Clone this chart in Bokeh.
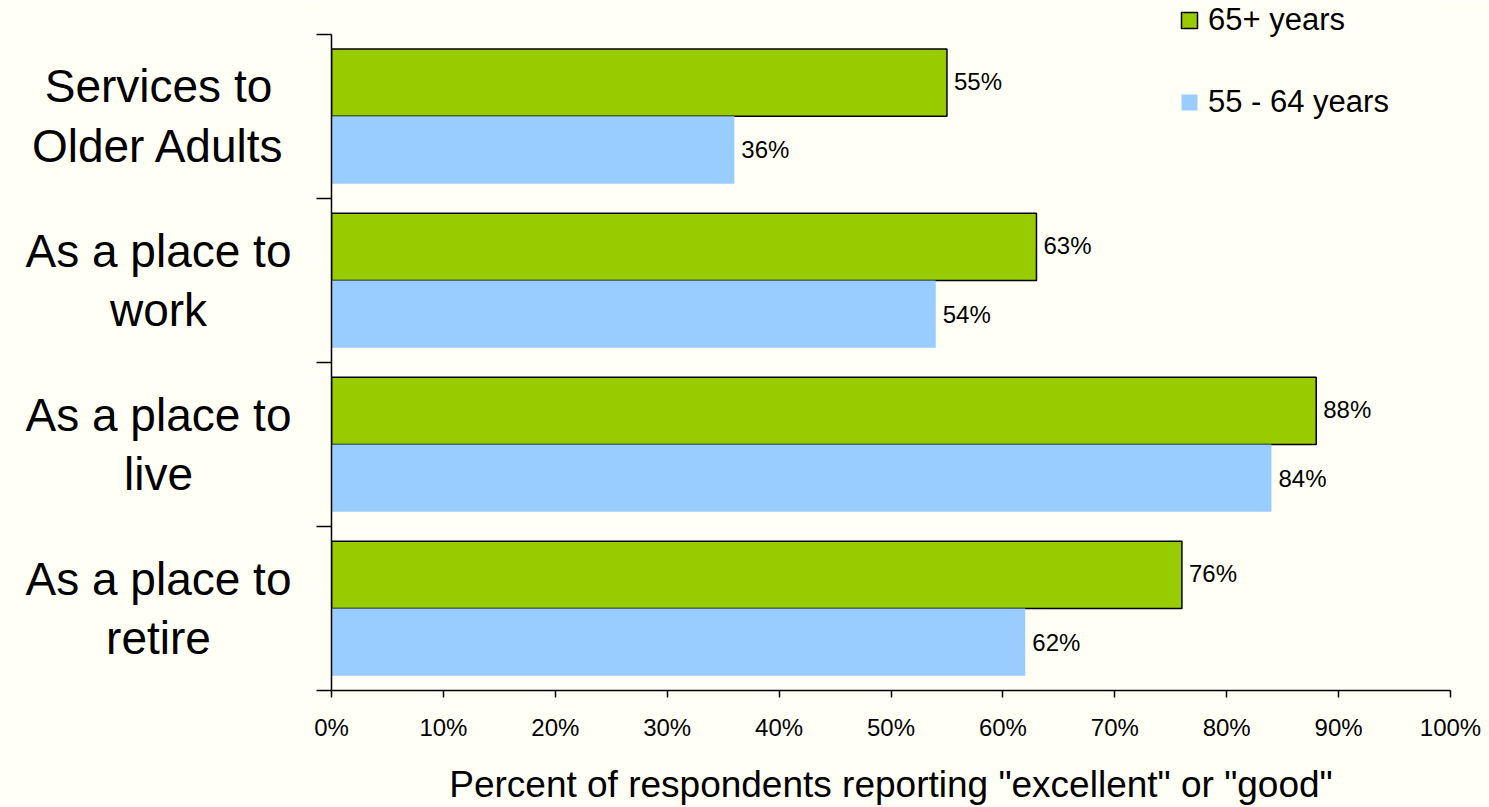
from bokeh.plotting import figure
from bokeh.layouts import row
from bokeh.models import Range1d, FixedTicker, PrintfTickFormatter, ColumnDataSource
from bokeh.core.properties import value
from bokeh.transform import dodge
from bokeh.embed import file_html
from bokeh.resources import INLINE

# ---- data ----
categories = ["Services to\nOlder Adults", "As a place to\nwork", "As a place to\nlive", "As a place to\nretire"]
series_names = ["65+ years", "55 - 64 years"]
older = [55, 63, 88, 76]
younger = [36, 54, 84, 62]
x_ticks = [0, 10, 20, 30, 40, 50, 60, 70, 80, 90, 100]
x_title = 'Percent of respondents reporting "excellent" or "good"'

FONT = "Liberation Sans"
BG = "#FFFFF6"
GREEN = "#99CC00"
BLUE = "#99CCFF"

# layout constants (pixels)
W, H = 1489, 807
LABEL_W = 307           # width of the category-label column
AXIS_W = 24             # room for the boundary ticks
BOTTOM = 114
RIGHT = 39
TOP_GAP = 34            # space above the first category, inside the frame (for the legend)
n = len(categories)
frame_h = H - BOTTOM
unit = (frame_h - TOP_GAP) / n
top_pad = TOP_GAP / unit

idx = list(range(n))
src = ColumnDataSource(dict(
    pos=[i + 0.5 for i in idx],
    cat=categories,
    older=older,
    younger=younger,
    older_lbl=[f"{v}%" for v in older],
    younger_lbl=[f"{v}%" for v in younger],
))

yr = Range1d(n, -top_pad)

# ---- category label column ----
lp = figure(width=LABEL_W, height=H, output_backend="svg", toolbar_location=None,
            x_range=Range1d(0, LABEL_W), y_range=yr, x_axis_location=None, y_axis_location=None,
            background_fill_color=BG, border_fill_color=BG,
            min_border_left=0, min_border_right=0, min_border_top=0, min_border_bottom=BOTTOM)
lp.outline_line_color = None
lp.grid.visible = False
lp.text(x=158, y="pos", text="cat", source=src, text_align="center", text_baseline="middle",
        text_font=value(FONT), text_font_size="46px", text_line_height=1.15, text_color="black")

# ---- main chart ----
p = figure(width=W - LABEL_W, height=H, output_backend="svg", toolbar_location=None,
           x_range=Range1d(0, 100), y_range=yr,
           background_fill_color=BG, border_fill_color=BG,
           min_border_left=AXIS_W, min_border_right=RIGHT, min_border_top=0, min_border_bottom=BOTTOM)
p.outline_line_color = None
p.grid.visible = False

p.hbar(y=dodge("pos", -0.205, range=p.y_range), right="older", left=0, height=0.41, source=src,
       fill_color=GREEN, line_color="black", line_width=1.5, legend_label=series_names[0])
p.hbar(y=dodge("pos", 0.205, range=p.y_range), right="younger", left=0, height=0.41, source=src,
       fill_color=BLUE, line_color=None, legend_label=series_names[1])

p.text(x="older", y=dodge("pos", -0.215, range=p.y_range), text="older_lbl", source=src, x_offset=7,
       text_baseline="middle", text_align="left", text_font_size="24px", text_font=value(FONT),
       text_color="black")
p.text(x="younger", y=dodge("pos", 0.205, range=p.y_range), text="younger_lbl", source=src, x_offset=7,
       text_baseline="middle", text_align="left", text_font_size="24px", text_font=value(FONT),
       text_color="black")

# x axis
xa = p.xaxis[0]
xa.ticker = FixedTicker(ticks=x_ticks)
xa.formatter = PrintfTickFormatter(format="%d%%")
xa.major_tick_in = 0
xa.major_tick_out = 7
xa.minor_tick_line_color = None
xa.axis_line_width = 1.5
xa.major_tick_line_width = 1.5
xa.axis_line_color = "black"
xa.major_tick_line_color = "black"
xa.major_label_text_font = FONT
xa.major_label_text_font_size = "24px"
xa.major_label_text_color = "black"
xa.major_label_standoff = 16
xa.axis_label = x_title
xa.axis_label_text_font = FONT
xa.axis_label_text_font_size = "37px"
xa.axis_label_text_font_style = "normal"
xa.axis_label_text_color = "black"
xa.axis_label_standoff = 20

# y axis: ticks at category boundaries, no labels
boundaries = list(range(n + 1))
ya = p.yaxis[0]
ya.ticker = FixedTicker(ticks=boundaries)
ya.major_label_overrides = {b: "" for b in boundaries}
ya.bounds = (0, n)
ya.major_tick_in = 0
ya.major_tick_out = 15
ya.minor_tick_line_color = None
ya.axis_line_width = 1.5
ya.major_tick_line_width = 1.5
ya.axis_line_color = "black"
ya.major_tick_line_color = "black"
ya.major_label_text_font_size = "10px"
ya.major_label_standoff = 0

lg = p.legend[0]
lg.location = (848, 570)
lg.padding = 0
lg.margin = 0
lg.spacing = 46
lg.border_line_color = None
lg.background_fill_alpha = 0
lg.glyph_width = 20
lg.glyph_height = 20
lg.label_standoff = 9
lg.label_text_font = FONT
lg.label_text_font_size = "31px"
lg.label_text_color = "black"

layout = row(lp, p)
open("out.html", "w").write(file_html(layout, INLINE))
